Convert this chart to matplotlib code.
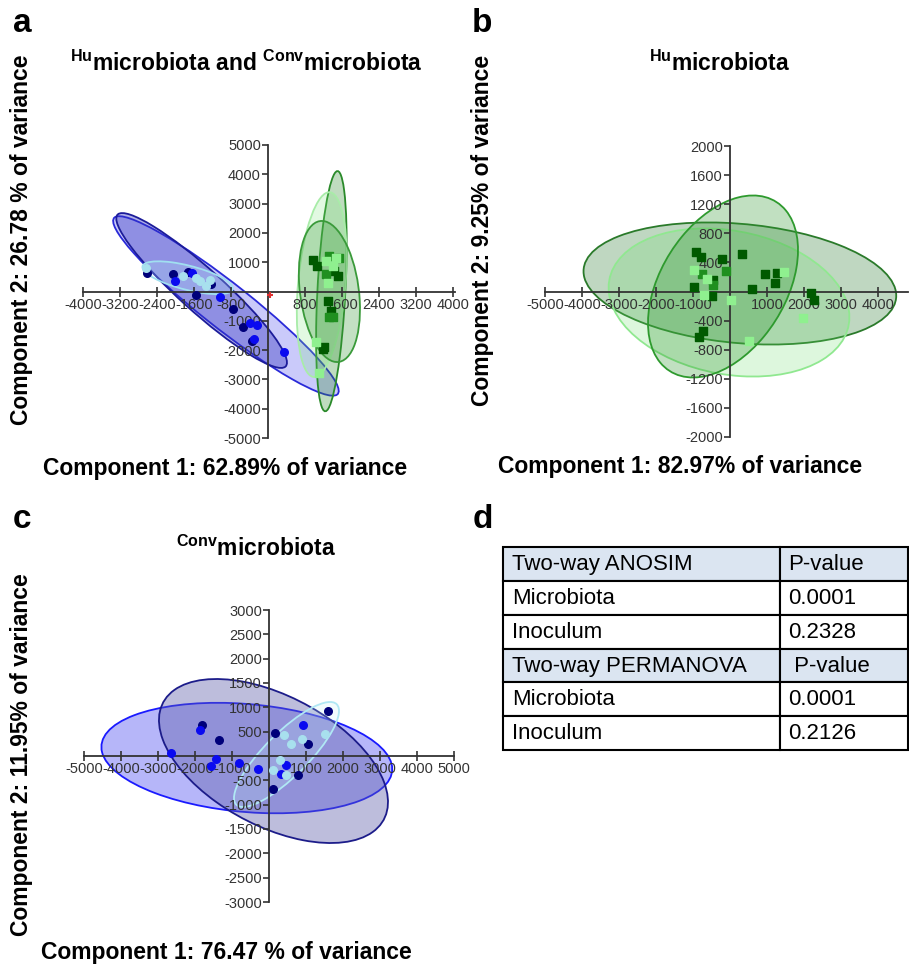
import numpy as np
import matplotlib
matplotlib.use('Agg')
import matplotlib.pyplot as plt
from matplotlib.patches import Ellipse, Rectangle
from matplotlib.colors import to_rgba
import matplotlib.transforms as transforms

plt.rcParams['font.family'] = ['Liberation Sans', 'DejaVu Sans']
plt.rcParams['mathtext.fontset'] = 'custom'
plt.rcParams['mathtext.rm'] = 'Liberation Sans:bold'
plt.rcParams['mathtext.bf'] = 'Liberation Sans:bold'
plt.rcParams['mathtext.it'] = 'Liberation Sans:bold'

# ---- panel a: Hu + Conv microbiota ----
a_navy_x = [-2614, -2052, -1728, -1548, -1224, -756, -540, -338]
a_navy_y = [638, 605, 660, -112, 246, -594, -1210, -1691]
a_blue_x = [-2016, -1650, -1030, -382, -238, -300, 360]
a_blue_y = [358, 640, -202, -1075, -1154, -1620, -2072]
a_cyan_x = [-2640, -1836, -1548, -1476, -1260, -1332]
a_cyan_y = [806, 526, 470, 358, 380, 190]
a_dkgreen_x = [972, 1066, 1440, 1512, 1296, 1368, 1224, 1190]
a_dkgreen_y = [1086, 885, 694, 526, -314, -650, -1882, -1950]
a_green_x = [1318, 1548, 1332, 1400, 1250]
a_green_y = [1198, 1142, -874, -880, 600]
a_ltgreen_x = [1260, 1476, 1420, 1044, 1116, 1300]
a_ltgreen_y = [1030, 1142, 870, -1714, -2778, 300]
a_centroid = (50, -112)
# ellipses: centre x, centre y, half-width, half-height, correlation
a_ell = [(-907, -493, 2441, 3063, -0.947),
         (-1433, 34, 1847, 2643, -0.93),
         (-1735, 470, 979, 560, -0.65),
         (1375, 11, 331, 4099, 0.40),
         (1166, 235, 540, 3153, 0.30),
         (1332, 0, 662, 2408, -0.25)]
a_ell_face = ['#5050f0', '#3030c0', '#b0e8f4', '#2e8b2e', '#7ce87c', '#3a9a3a']
a_ell_edge = ['#2a2ad8', '#1c1c9a', '#a0e0f0', '#2a8a2a', '#a8eca8', '#3a9a3a']
a_ell_alpha = [0.30, 0.38, 0.25, 0.30, 0.22, 0.30]

# ---- panel b: Hu microbiota ----
b_dk_x = [-931, -796, -208, 335, -452, -976, -479, 588, 940, 1266, 1211, 2188, 2278, -741, -841]
b_dk_y = [542, 474, 451, 510, 155, 55, -59, 32, 246, 260, 114, -27, -118, -538, -629]
b_mid_x = [-118, -768, -452]
b_mid_y = [282, 246, 87]
b_lt_x = [-976, -633, -705, 18, 1464, 1962, 515]
b_lt_y = [296, 178, -46, -118, 269, -369, -674]
b_ell = [(267, 110, 4226, 839, -0.20),
         (-27, -151, 3254, 1018, -0.20),
         (-189, 69, 2027, 1251, 0.40)]
b_ell_face = ['#2e7d32', '#66dd66', '#339933']
b_ell_edge = ['#2a7a2a', '#90e890', '#2e9a2e']
b_ell_alpha = [0.30, 0.22, 0.30]

# ---- panel c: Conv microbiota ----
c_navy_x = [-1802, -1352, 171, 1063, 1604, 784, 108]
c_navy_y = [638, 336, 474, 240, 927, -398, -680]
c_blue_x = [-1856, -2640, -1424, -1559, -811, -288, 919, 450, 333]
c_blue_y = [529, 62, -69, -206, -144, -261, 645, -178, -378]
c_cyan_x = [396, 586, 883, 1514, 288, 108, 450]
c_cyan_y = [439, 240, 343, 460, -76, -295, -398]
c_ell = [(-600, -42, 3930, 1135, -0.20),
         (121, -103, 3095, 1685, -0.50),
         (473, 31, 1419, 1079, 0.83)]
c_ell_face = ['#6f6ff5', '#5a5aa8', '#c0f0f8']
c_ell_edge = ['#1a1aff', '#1c1c8a', '#b0e8f4']
c_ell_alpha = [0.50, 0.40, 0.20]

# ---- panel d: table ----
tbl_rows = ['Two-way ANOSIM', 'Microbiota', 'Inoculum',
            'Two-way PERMANOVA', 'Microbiota', 'Inoculum']
tbl_vals = ['P-value', '0.0001', '0.2328', ' P-value', '0.0001', '0.2126']
tbl_header = [0, 3]

NAVY, BLUE, CYAN = '#00007a', '#0a0af0', '#a8e0ee'
DKGREEN, GREEN, LTGREEN = '#005a00', '#1f8f1f', '#8ff08f'


def conf_ellipse(ax, cx, cy, hx, hy, rho, face, edge, alpha):
    e = Ellipse((0, 0), width=2 * np.sqrt(1 + rho), height=2 * np.sqrt(1 - rho),
                facecolor=to_rgba(face, alpha), edgecolor=edge, lw=1.3, zorder=1)
    tr = transforms.Affine2D().rotate_deg(45).scale(hx, hy).translate(cx, cy)
    e.set_transform(tr + ax.transData)
    ax.add_patch(e)


def setup(ax, xlim, ylim, xticks, yticks):
    ax.set_xlim(xlim)
    ax.set_ylim(ylim)
    ax.patch.set_alpha(0)
    for s in ['top', 'right']:
        ax.spines[s].set_visible(False)
    for s in ['left', 'bottom']:
        ax.spines[s].set_position(('data', 0))
        ax.spines[s].set_color('#333333')
        ax.spines[s].set_linewidth(1.3)
    ax.set_xticks(xticks)
    ax.set_xticklabels([str(t) for t in xticks])
    ax.set_yticks(yticks)
    ax.set_yticklabels([str(t) for t in yticks])
    ax.tick_params(axis='x', direction='inout', length=7, width=1.2, labelsize=10.5,
                   colors='#333333', pad=1)
    ax.tick_params(axis='y', direction='out', length=4, width=1.2, labelsize=10.5,
                   colors='#333333', pad=1)


fig = plt.figure(figsize=(9.09, 9.67), dpi=100)
W, H = 909, 967

# panel a
axa = fig.add_axes([83 / W, 1 - 438 / H, 372 / W, 293 / H])
setup(axa, (-4000, 4050), (-5000, 5000),
      [-4000, -3200, -2400, -1600, -800, 800, 1600, 2400, 3200, 4000],
      [-5000, -4000, -3000, -2000, -1000, 1000, 2000, 3000, 4000, 5000])
for p, f, e, al in zip(a_ell, a_ell_face, a_ell_edge, a_ell_alpha):
    conf_ellipse(axa, *p, f, e, al)
ms = 30
axa.scatter(a_navy_x, a_navy_y, s=ms, c=NAVY, zorder=3)
axa.scatter(a_blue_x, a_blue_y, s=ms, c=BLUE, zorder=3)
axa.scatter(a_cyan_x, a_cyan_y, s=ms, c=CYAN, zorder=3)
axa.scatter(a_dkgreen_x, a_dkgreen_y, s=ms, c=DKGREEN, marker='s', zorder=3)
axa.scatter(a_green_x, a_green_y, s=ms, c=GREEN, marker='s', zorder=3)
axa.scatter(a_ltgreen_x, a_ltgreen_y, s=ms, c=LTGREEN, marker='s', zorder=3)
axa.scatter([a_centroid[0]], [a_centroid[1]], s=20, c='#e03030', marker='+', zorder=3)

# panel b
axb = fig.add_axes([545 / W, 1 - 437 / H, 362.6 / W, 291 / H])
setup(axb, (-5000, 4800), (-2000, 2000),
      [-5000, -4000, -3000, -2000, -1000, 1000, 2000, 3000, 4000],
      [-2000, -1600, -1200, -800, -400, 400, 800, 1200, 1600, 2000])
for p, f, e, al in zip(b_ell, b_ell_face, b_ell_edge, b_ell_alpha):
    conf_ellipse(axb, *p, f, e, al)
axb.scatter(b_dk_x, b_dk_y, s=ms, c=DKGREEN, marker='s', zorder=3)
axb.scatter(b_mid_x, b_mid_y, s=ms, c=GREEN, marker='s', zorder=3)
axb.scatter(b_lt_x, b_lt_y, s=ms, c=LTGREEN, marker='s', zorder=3)

# panel c
axc = fig.add_axes([84 / W, 1 - 902 / H, 370 / W, 292 / H])
setup(axc, (-5000, 5000), (-3000, 3000),
      [-5000, -4000, -3000, -2000, -1000, 1000, 2000, 3000, 4000, 5000],
      [-3000, -2500, -2000, -1500, -1000, -500, 500, 1000, 1500, 2000, 2500, 3000])
for p, f, e, al in zip(c_ell, c_ell_face, c_ell_edge, c_ell_alpha):
    conf_ellipse(axc, *p, f, e, al)
axc.scatter(c_navy_x, c_navy_y, s=ms, c=NAVY, zorder=3)
axc.scatter(c_blue_x, c_blue_y, s=ms, c=BLUE, zorder=3)
axc.scatter(c_cyan_x, c_cyan_y, s=ms, c=CYAN, zorder=3)

# panel d table
axd = fig.add_axes([503 / W, 1 - 750 / H, 405 / W, 203 / H])
axd.set_xlim(0, 1)
axd.set_ylim(6, 0)
axd.axis('off')
split = 0.684
for i, (r, v) in enumerate(zip(tbl_rows, tbl_vals)):
    fc = '#dbe5f1' if i in tbl_header else 'white'
    axd.add_patch(Rectangle((0, i), split, 1, facecolor=fc, edgecolor='black', lw=1.5, clip_on=False))
    axd.add_patch(Rectangle((split, i), 1 - split, 1, facecolor=fc, edgecolor='black', lw=1.5, clip_on=False))
    axd.text(0.022, i + 0.52, r, fontsize=16, va='center', ha='left')
    axd.text(0.704, i + 0.52, v, fontsize=16, va='center', ha='left')

# text
def fx(px):
    return px / W


def fy(py):
    return 1 - py / H


lab = dict(fontsize=16.5, fontweight='bold', ha='center', va='center')
fig.text(fx(246), fy(63), r'$^{Hu}$microbiota and $^{Conv}$microbiota', **lab)
fig.text(fx(720), fy(63), r'$^{Hu}$microbiota', **lab)
fig.text(fx(256), fy(548), r'$^{Conv}$microbiota', **lab)

fig.text(fx(225), fy(468), 'Component 1: 62.89% of variance', **lab)
fig.text(fx(680), fy(467), 'Component 1: 82.97% of variance', **lab)
fig.text(fx(226), fy(952), 'Component 1: 76.47 % of variance', **lab)
fig.text(fx(22), fy(240), 'Component 2: 26.78 % of variance', rotation=90, **lab)
fig.text(fx(483), fy(230), 'Component 2: 9.25% of variance', rotation=90, **lab)
fig.text(fx(22), fy(755), 'Component 2: 11.95% of variance', rotation=90, **lab)

let = dict(fontsize=24, fontweight='bold', ha='center', va='center')
fig.text(fx(22), fy(24), 'a', **let)
fig.text(fx(482), fy(24), 'b', **let)
fig.text(fx(22), fy(519), 'c', **let)
fig.text(fx(483), fy(519), 'd', **let)

fig.savefig('out.png', dpi=100)
